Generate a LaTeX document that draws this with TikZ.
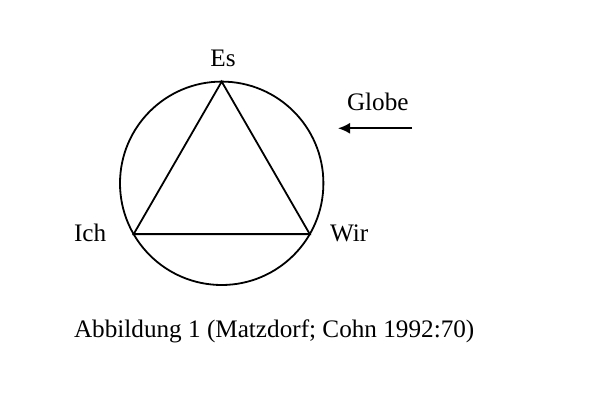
\documentclass[tikz,border=0pt]{standalone}
\usepackage{fontspec}
\setmainfont{Liberation Serif}
\usetikzlibrary{arrows.meta}
\newlength{\du}
\setlength{\du}{1pt}

\begin{document}
\begin{tikzpicture}[font=\fontsize{25.2}{30}\selectfont]
\useasboundingbox (0\du,0\du) rectangle (600\du,-403\du);
\definecolor{dialinecolor}{rgb}{0.000000, 0.000000, 0.000000}
\pgfsetstrokecolor{dialinecolor}
\pgfsetstrokeopacity{1.000000}
\pgfsetlinewidth{1.800000\du}
\pgfsetdash{}{0pt}
\pgfsetbuttcap
% globe
\node[draw=dialinecolor,circle,inner sep=0pt,outer sep=0pt,minimum size=203.400000\du] (globe) at (221.700000\du,-183.300000\du){};
\coordinate (es) at (globe.90);
\coordinate (ich) at (globe.210);
\coordinate (wir) at (globe.-30);
\pgfsetmiterjoin
\draw (es)--(wir)--(ich)--cycle;
% labels
\node[anchor=base,inner sep=0pt,outer sep=0pt,color=dialinecolor] (eslabel) at (223.000000\du,-66.700000\du){Es};
\node[anchor=base west,inner sep=0pt,outer sep=0pt,color=dialinecolor] (ichlabel) at (74.000000\du,-241.700000\du){Ich};
\node[anchor=base west,inner sep=0pt,outer sep=0pt,color=dialinecolor] (wirlabel) at (330.000000\du,-241.700000\du){Wir};
\node[anchor=base west,inner sep=0pt,outer sep=0pt,color=dialinecolor] (globelabel) at (347.000000\du,-110.700000\du){Globe};
% arrow
\coordinate (arrowtail) at (412.000000\du,-128.300000\du);
\coordinate (arrowhead) at (338.000000\du,-128.300000\du);
\draw[-{Latex[length=12pt,width=11pt]}] (arrowtail)--(arrowhead);
% caption
\node[anchor=base west,inner sep=0pt,outer sep=0pt,color=dialinecolor] (caption) at (74.000000\du,-337.700000\du){Abbildung 1 (Matzdorf; Cohn 1992:70)};
\end{tikzpicture}
\end{document}
